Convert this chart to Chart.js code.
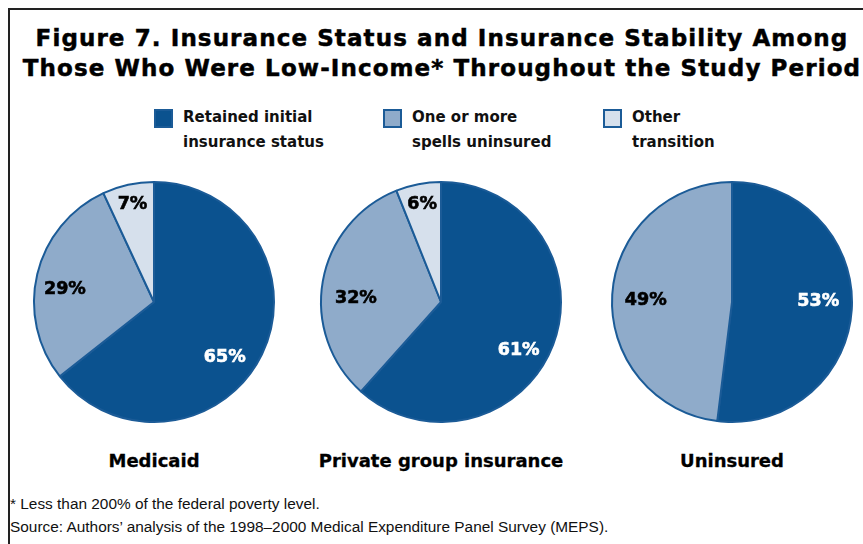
<!DOCTYPE html>
<html>
<head>
<meta charset="utf-8">
<script src="https://cdn.jsdelivr.net/npm/chart.js@4/dist/chart.umd.min.js"></script>
<style>
  html, body { margin: 0; padding: 0; background: #fff; }
  #page { position: relative; width: 863px; height: 544px; overflow: hidden; }
  #frame { position: absolute; left: 8px; top: 8px; width: 900px; height: 600px;
           border-left: 2px solid #222; border-top: 2px solid #222; }
  .title { position: absolute; left: 0; width: 884px; text-align: center; letter-spacing: 1.1px;
           font: bold 23px "DejaVu Sans", sans-serif; color: #000; white-space: nowrap;
           -webkit-text-stroke: 0.5px #000; }
  .legend-item { position: absolute; top: 108px; font: bold 15px "DejaVu Sans", sans-serif;
                 line-height: 25px; color: #111; }
  .swatch { position: absolute; top: 1px; width: 15px; height: 15px; border: 2px solid #1b5b97; }
  .legend-text { position: absolute; left: 29px; top: -3px; white-space: nowrap; }
  canvas { position: absolute; }
  .caption { position: absolute; top: 450px; width: 300px; text-align: center;
             font: bold 18px "DejaVu Sans", sans-serif; color: #000; -webkit-text-stroke: 0.3px #000; }
  .note { position: absolute; left: 10px; font: 15.4px "Liberation Sans", Arial, sans-serif; color: #111; white-space: nowrap; }
</style>
</head>
<body>
<div id="page">
  <div id="frame"></div>
  <div class="title" style="top:25px;">Figure 7. Insurance Status and Insurance Stability Among</div>
  <div class="title" style="top:55px;">Those Who Were Low-Income* Throughout the Study Period</div>
  <div id="legend"></div>
  <canvas id="pie-0" width="250" height="250"></canvas>
  <canvas id="pie-1" width="250" height="250"></canvas>
  <canvas id="pie-2" width="250" height="250"></canvas>
  <div id="captions"></div>
  <div class="note" style="top:495px;">* Less than 200% of the federal poverty level.</div>
  <div class="note" style="top:518px;">Source: Authors’ analysis of the 1998–2000 Medical Expenditure Panel Survey (MEPS).</div>
</div>
<script>
// Groups shown as separate pies, and the outcome categories inside each one
const groups = ['Medicaid', 'Private group insurance', 'Uninsured'];
const outcomes = [
    ['Retained initial', 'insurance status'],
    ['One or more', 'spells uninsured'],
    ['Other', 'transition']
];

// Percent of each group by outcome
const medicaidShares = [65, 29, 7];
const privateShares = [61, 32, 6];
const uninsuredShares = [53, 49, 0];
const groupShares = [medicaidShares, privateShares, uninsuredShares];

const fills = ['#0b528f', '#8fabca', '#d6e0ec'];
const textColors = ['#ffffff', '#000000', '#000000'];
const edgeColor = '#1b5b97';

const pieCenters = [154, 441, 732];
const pieCenterY = 302;

// small hand nudges so labels sit where they read best in each slice
const labelNudge = [
    [[-7, 18], [-5, 7], [0, 0]],
    [[-3, 18], [0, 11], [0, 0]],
    [[0, -6], [0, 4], [0, 0]]
];

// Legend built from the outcome list
const legend = document.getElementById('legend');
const legendLeft = [154, 383, 603];
outcomes.forEach((lines, i) => {
    const item = document.createElement('div');
    item.className = 'legend-item';
    item.style.left = legendLeft[i] + 'px';
    item.innerHTML = `<div class="swatch" style="background:${fills[i]}"></div>` +
        `<div class="legend-text">${lines.join('<br>')}</div>`;
    legend.appendChild(item);
});

// Group captions under each pie
const captions = document.getElementById('captions');
groups.forEach((name, i) => {
    const cap = document.createElement('div');
    cap.className = 'caption';
    cap.style.left = (pieCenters[i] - 150) + 'px';
    cap.textContent = name;
    captions.appendChild(cap);
});

// Draw the percentage inside each slice
function makeSliceLabels(nudges) {
    return {
        id: 'sliceLabels',
        afterDatasetsDraw(chart) {
            const ctx = chart.ctx;
            const meta = chart.getDatasetMeta(0);
            const values = chart.data.datasets[0].data;
            ctx.save();
            ctx.font = 'bold 17.5px "DejaVu Sans", sans-serif';
            ctx.textAlign = 'center';
            ctx.textBaseline = 'middle';
            ctx.lineWidth = 0.6;
            meta.data.forEach((arc, i) => {
                const v = values[i];
                if (!v) return;
                const mid = (arc.startAngle + arc.endAngle) / 2;
                const f = v < 10 ? 0.83 : 0.72;
                const x = arc.x + Math.cos(mid) * arc.outerRadius * f + nudges[i][0];
                const y = arc.y + Math.sin(mid) * arc.outerRadius * f + nudges[i][1];
                ctx.fillStyle = textColors[i];
                ctx.strokeStyle = textColors[i];
                ctx.fillText(v + '%', x, y);
                ctx.strokeText(v + '%', x, y);
            });
            ctx.restore();
        }
    };
}

groupShares.forEach((shares, i) => {
    const canvas = document.getElementById('pie-' + i);
    canvas.style.left = (pieCenters[i] - 125) + 'px';
    canvas.style.top = (pieCenterY - 125) + 'px';
    new Chart(canvas.getContext('2d'), {
        type: 'pie',
        data: {
            labels: outcomes.map(l => l.join(' ')),
            datasets: [{
                data: shares,
                backgroundColor: fills,
                borderColor: edgeColor,
                borderWidth: 2
            }]
        },
        options: {
            responsive: false,
            devicePixelRatio: 1,
            animation: false,
            radius: 120,
            layout: { padding: 0 },
            plugins: {
                legend: { display: false },
                tooltip: { enabled: false }
            }
        },
        plugins: [makeSliceLabels(labelNudge[i])]
    });
});
</script>
</body>
</html>
